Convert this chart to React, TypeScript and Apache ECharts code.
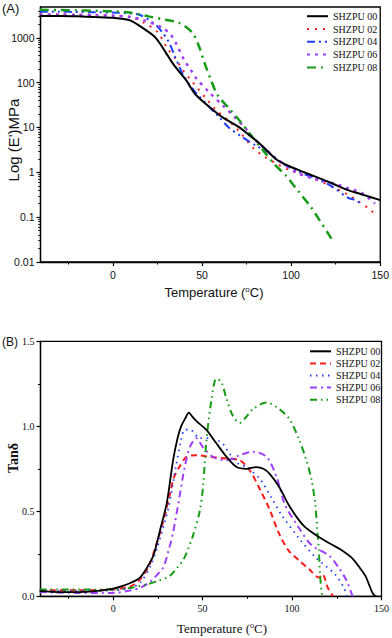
import React, { useEffect, useRef } from 'react';
import * as echarts from 'echarts';

const SERIF = "'Liberation Serif', 'Times New Roman', serif";
const SANS = "'Liberation Sans', Arial, sans-serif";

const NAMES = ['SHZPU 00', 'SHZPU 02', 'SHZPU 04', 'SHZPU 06', 'SHZPU 08'];
const COLORS = ['#000000', '#ff1a1a', '#1f3fff', '#a040ff', '#169b16'];

const T_MIN = -40.6;
const T_MAX = 150;
const T_MAJOR = [0, 50, 100, 150];
const T_MINOR = [-25, 25, 75, 125];
const E_MIN = 0.01;
const E_MAX = 4850;
const TAN_MIN = 0;
const TAN_MAX = 1.5;
const TAN_STEP = 0.5;

// (A) storage modulus E' (MPa) vs temperature (°C)
const E00: [number, number][] = [
  [-41, 3050], [-30, 3050], [-20, 3000], [-10, 2900], [0, 2800], [5, 2650], [10, 2400],
  [16.7, 1660], [23.3, 1070], [27, 690], [29.8, 460], [33.4, 275], [37.3, 174], [41, 115],
  [43.8, 76], [46.6, 53], [54, 29], [61.4, 17], [70.8, 10.2], [76, 7], [82, 4.5], [87, 2.9],
  [92, 1.9], [98.7, 1.38], [106, 1.05], [113.6, 0.8], [122.8, 0.57], [132, 0.4], [141, 0.31], [150, 0.24],
];
const E02: [number, number][] = [
  [-41, 3350], [-30, 3350], [-20, 3300], [-10, 3250], [0, 3150], [10, 2900], [17.7, 2140],
  [25, 1350], [30.5, 590], [35.6, 320], [40, 174], [44.6, 104], [53, 41], [58, 24], [63.4, 16],
  [70, 9], [79, 3.4], [86, 2.1], [92, 1.55], [99, 1.12], [112, 0.74], [122, 0.5], [130, 0.35],
  [138, 0.22], [145, 0.14], [147, 0.11],
];
const E04: [number, number][] = [
  [-41, 3800], [-30, 3800], [-20, 3750], [-10, 3700], [0, 3650], [8, 3500], [15, 3250],
  [24, 1950], [28, 1280], [31.7, 760], [34.5, 415], [37.3, 225], [40, 134], [46.6, 59], [54, 29],
  [59.6, 17], [65, 10], [72.6, 6.1], [80, 4], [87.5, 2.7], [95, 1.6], [104, 1.03], [115, 0.7],
  [123, 0.48], [132, 0.27], [136, 0.24], [140, 0.19],
];
const E06: [number, number][] = [
  [-41, 3250], [-30, 3250], [-20, 3200], [-10, 3150], [0, 3100], [10, 2900], [16.7, 2500],
  [28, 1660], [32.6, 1150], [35.4, 760], [40, 320], [43.8, 190], [46.6, 127], [54, 61], [62.4, 29],
  [69, 16], [75, 9], [80, 5.2], [86, 3.2], [91, 2.1], [104, 0.95], [113, 0.72], [123, 0.58],
  [132, 0.44], [140, 0.34], [147, 0.2],
];
const E08: [number, number][] = [
  [-41, 4200], [-30, 4150], [-20, 4100], [-10, 4000], [0, 3900], [9.4, 3650], [20.5, 2960],
  [30, 2500], [37.3, 2140], [44.6, 1290], [48.4, 630], [51.2, 290], [55, 115], [58.7, 53],
  [65, 27], [70.8, 14.7], [76.4, 7.5], [84, 3.2], [90, 1.6], [97, 0.85], [104, 0.38],
  [111, 0.17], [116, 0.085], [121, 0.042], [123, 0.031],
];

// (B) tan delta vs temperature (°C)
const TAN00: [number, number][] = [
  [-41, 0.03], [-30, 0.025], [-20, 0.025], [-10, 0.03], [0, 0.045], [5, 0.06], [10, 0.08],
  [15, 0.11], [19, 0.17], [22.5, 0.24], [26, 0.38], [30, 0.55], [33.5, 0.8], [36, 0.93], [38, 1.0],
  [40.5, 1.05], [42.3, 1.08], [44, 1.06], [46.6, 1.03], [52, 0.98], [57.7, 0.9], [63.4, 0.82],
  [69, 0.76], [74.6, 0.75], [80, 0.76], [84, 0.75], [87.5, 0.72], [93, 0.64], [98, 0.54],
  [103, 0.46], [107, 0.41], [112, 0.37], [118, 0.33], [123, 0.3], [128, 0.27], [133, 0.23],
  [137, 0.18], [141, 0.12], [143, 0.07], [144.5, 0.03], [145.6, 0.01], [147, 0.0],
];
const TAN02: [number, number][] = [
  [-41, 0.035], [-20, 0.035], [-10, 0.035], [0, 0.04], [10, 0.06], [15, 0.1], [20, 0.18],
  [24, 0.3], [28, 0.44], [31.7, 0.6], [34, 0.7], [37, 0.76], [41, 0.82], [46.6, 0.83], [54, 0.82],
  [63.4, 0.81], [70.8, 0.8], [76.4, 0.74], [82, 0.63], [87.5, 0.51], [92.7, 0.37], [98, 0.27],
  [104, 0.21], [109.5, 0.16], [115, 0.11], [117, 0.13], [120, 0.05], [123, 0.0],
];
const TAN04: [number, number][] = [
  [-41, 0.03], [-20, 0.03], [0, 0.035], [10, 0.05], [15, 0.08], [20.5, 0.17], [25, 0.3],
  [30.9, 0.52], [35, 0.76], [38, 0.92], [40, 0.98], [43, 0.98], [48.4, 0.93], [54, 0.93],
  [61, 0.9], [65, 0.84], [70, 0.78], [74.6, 0.76], [82, 0.69], [88.5, 0.58], [94, 0.48],
  [104, 0.34], [113, 0.23], [124, 0.13], [129, 0.05], [130.6, 0.0],
];
const TAN06: [number, number][] = [
  [-41, 0.025], [-20, 0.02], [0, 0.02], [10, 0.035], [15, 0.05], [20, 0.08], [24, 0.12],
  [28, 0.17], [31, 0.27], [33.6, 0.38], [37, 0.58], [40, 0.76], [43, 0.88], [46.6, 0.93],
  [50, 0.88], [55.8, 0.82], [63.4, 0.8], [70.8, 0.83], [78, 0.85], [85.8, 0.82], [91.4, 0.7],
  [96, 0.54], [104, 0.4], [111, 0.3], [120.6, 0.24], [126, 0.17], [130.6, 0.09], [133.5, 0.01], [134, 0.0],
];
const TAN08: [number, number][] = [
  [-41, 0.04], [-20, 0.04], [0, 0.04], [10, 0.05], [18.7, 0.07], [25, 0.09], [31.7, 0.12],
  [36, 0.17], [39, 0.21], [42, 0.28], [44.7, 0.36], [48.4, 0.5], [50.3, 0.65], [52, 0.9],
  [55, 1.16], [57.7, 1.28], [60.5, 1.26], [63.4, 1.16], [67, 1.06], [70.8, 1.02], [74, 1.05],
  [78, 1.1], [85.8, 1.14], [93, 1.1], [98.7, 1.04], [104, 0.92], [108, 0.8], [111, 0.68],
  [113, 0.54], [114, 0.4], [115, 0.27], [115.6, 0.13], [116.7, 0.01],
];

const E_DATA = [E00, E02, E04, E06, E08];
const TAN_DATA = [TAN00, TAN02, TAN04, TAN06, TAN08];

const TOP_DASH: any[] = ['solid', [2, 6], [8, 4, 2, 4, 2, 4], [3, 5], [9, 5, 2, 5]];
const TOP_WIDTH = [2, 2, 2, 2.5, 2.5];
const BOT_DASH: any[] = ['solid', [6, 4], [1.5, 4.5], [7, 4, 2, 4], [7, 4, 1.5, 4, 1.5, 4]];
const BOT_WIDTH = [1.8, 2, 1.8, 2, 2];

const B_PREFIX = 'B:';

function logMinorTicks(): number[] {
  const out: number[] = [];
  for (let n = -2; n <= 3; n++) {
    for (let k = 2; k <= 9; k++) {
      const v = Math.log10(k) + n;
      if (v <= Math.log10(E_MAX)) out.push(v);
    }
  }
  return out;
}

function isDecade(v: number): boolean {
  const l = Math.log10(v);
  return Math.abs(l - Math.round(l)) < 1e-6;
}

export default function App() {
  const ref = useRef<HTMLDivElement>(null);
  useEffect(() => {
    if (!ref.current) return;
    const chart = echarts.init(ref.current, undefined, { renderer: 'svg' });
    const axisLine = { show: true, onZero: false, lineStyle: { color: '#000', width: 1.3 } };
    const gridCommon = { show: true, borderColor: '#000', borderWidth: 1.3, backgroundColor: 'transparent' };
    const topLabel = { fontFamily: SANS, fontSize: 10.5, color: '#111' };
    const botLabel = { fontFamily: SERIF, fontSize: 10, color: '#111' };

    const xMajor = (grid: number, label: any) => ({
      gridIndex: grid, type: 'value', position: 'bottom', min: T_MIN, max: T_MAX,
      axisLine, splitLine: { show: false },
      axisTick: { show: true, customValues: T_MAJOR, length: 4, lineStyle: { color: '#000', width: 1.2 } },
      axisLabel: { customValues: T_MAJOR, margin: 7, ...label },
    });
    const xMinor = (grid: number) => ({
      gridIndex: grid, type: 'value', position: 'bottom', min: T_MIN, max: T_MAX,
      axisLine: { show: false, onZero: false }, splitLine: { show: false },
      axisTick: { show: true, customValues: T_MINOR, length: 2.5, lineStyle: { color: '#000', width: 1 } },
      axisLabel: { show: false },
    });

    const series: any[] = [];
    E_DATA.forEach((d, i) => {
      series.push({
        name: NAMES[i], type: 'line', xAxisIndex: 0, yAxisIndex: 0, data: d, smooth: 0.3,
        symbol: 'none', color: COLORS[i],
        lineStyle: { color: COLORS[i], width: TOP_WIDTH[i], type: TOP_DASH[i] },
        z: i === 0 ? 5 : 3,
      });
    });
    TAN_DATA.forEach((d, i) => {
      series.push({
        name: B_PREFIX + NAMES[i], type: 'line', xAxisIndex: 2, yAxisIndex: 2, data: d, smooth: 0.3,
        symbol: 'none', color: COLORS[i],
        lineStyle: { color: COLORS[i], width: BOT_WIDTH[i], type: BOT_DASH[i] },
        z: i === 0 ? 5 : 3,
      });
    });

    const legendCommon = {
      orient: 'vertical', itemWidth: 21, itemHeight: 12, padding: 0,
      itemStyle: { opacity: 0 },
      textStyle: { fontFamily: SERIF, fontSize: 10, color: '#111' },
      formatter: (n: string) => n.replace(B_PREFIX, ''),
      selectedMode: false,
    };

    chart.setOption({
      animation: false,
      backgroundColor: '#fff',
      grid: [
        { left: 40.5, top: 7, width: 342, height: 255, ...gridCommon },
        { left: 40.5, top: 341.3, width: 342, height: 255, ...gridCommon },
      ],
      xAxis: [xMajor(0, topLabel), xMinor(0), xMajor(1, botLabel), xMinor(1)],
      yAxis: [
        {
          gridIndex: 0, type: 'log', logBase: 10, min: E_MIN, max: E_MAX, position: 'left',
          axisLine, splitLine: { show: false },
          axisTick: { show: true, length: 4, lineStyle: { color: '#000', width: 1.2 } },
          axisLabel: {
            ...topLabel, margin: 6, showMaxLabel: false,
            formatter: (v: number) => (isDecade(v) ? String(parseFloat(Number(v).toPrecision(3))) : ''),
          },
        },
        {
          gridIndex: 0, type: 'value', min: -2, max: Math.log10(E_MAX), position: 'left',
          axisLine: { show: false, onZero: false }, splitLine: { show: false },
          axisTick: { show: true, customValues: logMinorTicks(), length: 2.5, lineStyle: { color: '#000', width: 0.8 } },
          axisLabel: { show: false },
        },
        {
          gridIndex: 1, type: 'value', min: TAN_MIN, max: TAN_MAX, interval: TAN_STEP, position: 'left',
          axisLine, splitLine: { show: false },
          axisTick: { show: true, length: 4, lineStyle: { color: '#000', width: 1.2 } },
          minorTick: { show: true, splitNumber: 2, length: 2.5, lineStyle: { color: '#000', width: 1 } },
          axisLabel: { ...botLabel, margin: 6, formatter: (v: number) => v.toFixed(1) },
        },
      ],
      legend: [
        { ...legendCommon, left: 306, top: 11.2, itemGap: 2.8, data: NAMES },
        { ...legendCommon, left: 309, top: 346.3, itemGap: 2.1, data: NAMES.map((n) => B_PREFIX + n) },
      ],
      graphic: [
        { type: 'text', x: 2, y: 2, style: { text: '(A)', fontFamily: SANS, fontSize: 13, fill: '#111', align: 'left', verticalAlign: 'top' } },
        { type: 'text', x: 2, y: 342, style: { text: '(B)', fontFamily: SANS, fontSize: 12, fill: '#111', align: 'left', verticalAlign: 'middle' } },
        {
          type: 'text', x: 13, y: 140, rotation: Math.PI / 2,
          style: { text: "Log (E')MPa", fontFamily: SANS, fontSize: 15, fill: '#111', align: 'center', verticalAlign: 'middle' },
        },
        {
          type: 'text', x: 214, y: 292,
          style: {
            text: '{a|Temperature (}{s|o}{a|C)}', align: 'center', verticalAlign: 'middle',
            rich: {
              a: { fontFamily: SANS, fontSize: 13, fill: '#111' },
              s: { fontFamily: SANS, fontSize: 8, fill: '#111', verticalAlign: 'top' },
            },
          },
        },
        {
          type: 'text', x: 13, y: 458, rotation: Math.PI / 2,
          style: { text: 'Tanδ', fontFamily: SERIF, fontWeight: 'bold', fontSize: 14, fill: '#111', align: 'center', verticalAlign: 'middle' },
        },
        {
          type: 'text', x: 222, y: 628,
          style: {
            text: '{a|Temperature (}{s|o}{a|C)}', align: 'center', verticalAlign: 'middle',
            rich: {
              a: { fontFamily: SERIF, fontSize: 13, fill: '#111' },
              s: { fontFamily: SERIF, fontSize: 8, fill: '#111', verticalAlign: 'top' },
            },
          },
        },
      ],
      series,
    });
    return () => chart.dispose();
  }, []);
  return <div ref={ref} style={{ position: 'absolute', left: 0, top: 0, width: 392, height: 638 }} />;
}
